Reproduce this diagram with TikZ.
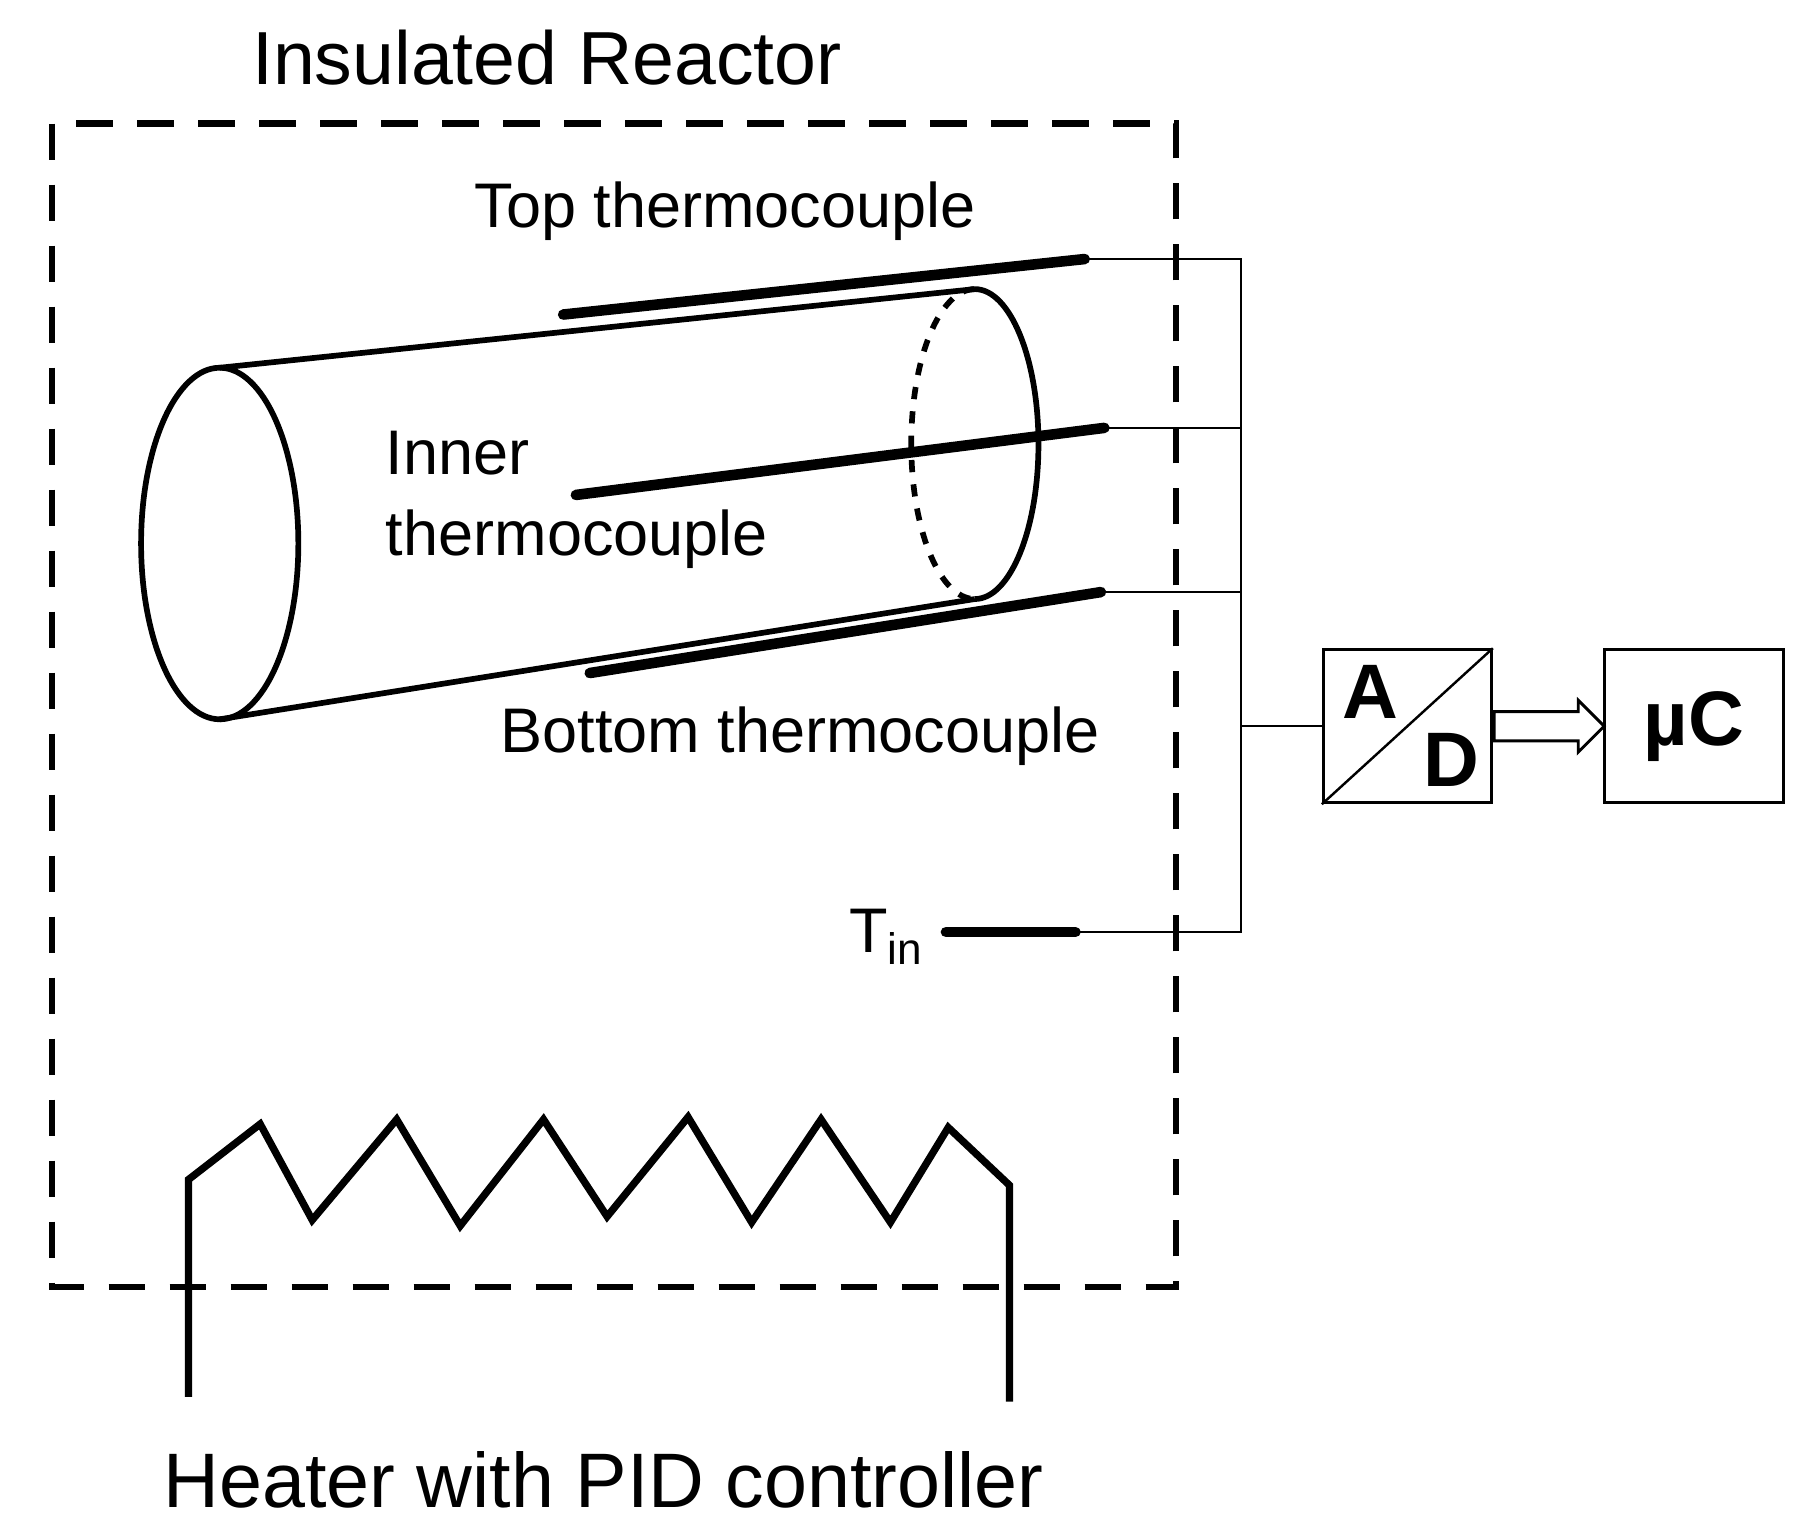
\documentclass[tikz,border=0pt]{standalone}
\usepackage{fontspec}
\setmainfont{Liberation Sans}
\usetikzlibrary{positioning, shapes.arrows}

\tikzset{
  probe/.style={line width=2.6pt, line cap=round},
  wire/.style={line width=0.6pt},
  body/.style={line width=1.4pt},
  block/.style={draw, line width=0.8pt, minimum width=1.45cm, minimum height=1.32cm},
  lbl/.style={font=\fontsize{15.5}{18}\selectfont, inner sep=0pt}
}

\begin{document}
\begin{tikzpicture}[x=0.01cm, y=-0.01cm]
\useasboundingbox (0,0) rectangle (1560,1327);
        % reactor
        \node[font=\fontsize{18.5}{22}\selectfont] (title) at (473,50) {Insulated Reactor};
        \draw[line width=1.6pt, dash pattern=on 9pt off 6pt] (45,107) rectangle (1017,1113);
        % cylinder
        \draw[body] (190,470) ellipse [x radius=68, y radius=152];
        \draw[body] (190,318) -- (843,250);
        \draw[body] (190,622) -- (843,518);
        \draw[body] (843,250) arc[start angle=-90, end angle=90, x radius=55, y radius=134];
        \draw[body, dashed] (843,250) arc[start angle=-90, end angle=-270, x radius=55, y radius=134];
        % thermocouples
        \coordinate (top1) at (487,272);
        \coordinate (top2) at (938,224);
        \coordinate (inn1) at (498,428);
        \coordinate (inn2) at (955,370);
        \coordinate (bot1) at (510,582);
        \coordinate (bot2) at (952,512);
        \coordinate (tin1) at (818,806);
        \coordinate (tin2) at (930,806);
        \draw[probe] (top1) -- (top2);
        \draw[probe] (inn1) -- (inn2);
        \draw[probe] (bot1) -- (bot2);
        \draw[probe] (tin1) -- (tin2);
        \node[lbl] (toplbl) at (627,183) {Top thermocouple};
        \node[lbl, align=left, anchor=west] (innlbl) at (333,432) {Inner\\[2pt]thermocouple};
        \node[lbl] (botlbl) at (692,637) {Bottom thermocouple};
        \node[lbl, anchor=east] (tinlbl) at (800,810) {T\textsubscript{in}};
        % bus
        \coordinate (bus1) at (1073,224);
        \coordinate (bus2) at (1073,370);
        \coordinate (bus3) at (1073,512);
        \coordinate (bus4) at (1073,806);
        \coordinate (busm) at (1073,628);
        \draw[wire] (top2) -- (bus1) -- (bus4) -- (tin2);
        \draw[wire] (inn2) -- (bus2);
        \draw[wire] (bot2) -- (bus3);
        % converter
        \node[block] (ad) at (1217,628) {};
        \draw[wire] (ad.south west) -- (ad.north east);
        \node[font=\bfseries\fontsize{19}{22}\selectfont] (adA) at (1185,598) {A};
        \node[font=\bfseries\fontsize{19}{22}\selectfont] (adD) at (1255,657) {D};
        \node[block, minimum width=1.55cm, right=0.95cm of ad, font=\bfseries\fontsize{19}{22}\selectfont] (uc) {µC};
        \draw[wire] (busm) -- (ad.west);
        \node[single arrow, draw, line width=0.7pt, minimum height=0.95cm, minimum width=0.45cm,
              single arrow head extend=0.08cm, inner sep=0.09cm, anchor=west] (arr) at (ad.east) {};
        % heater
        \draw[line width=1.8pt, line join=miter] (163,1208) -- (163,1020) -- (225,972) -- (270,1055)
          -- (343,968) -- (398,1060) -- (470,968) -- (525,1052) -- (595,966) -- (650,1057)
          -- (710,968) -- (770,1057) -- (820,975) -- (873,1025) -- (873,1212);
        \node[font=\fontsize{19}{23}\selectfont] (heater) at (522,1280) {Heater with PID controller};
\end{tikzpicture}
\end{document}
